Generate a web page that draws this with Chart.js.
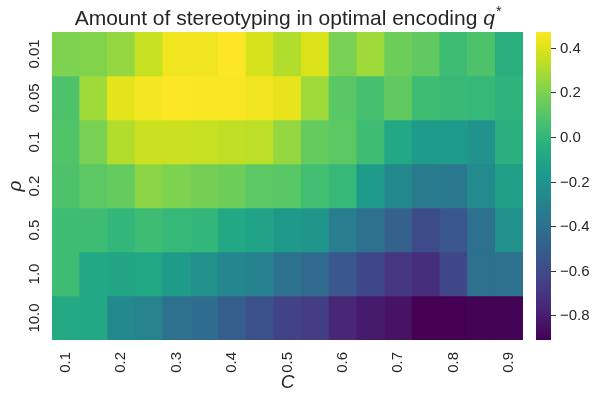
<!DOCTYPE html>
<html>
<head>
<meta charset="utf-8">
<script src="https://cdn.jsdelivr.net/npm/chart.js@4.4.1/dist/chart.umd.min.js"></script>
<style>
html,body{margin:0;padding:0;background:#fff;}
#wrap{width:595px;height:394px;position:relative;}
canvas{display:block;}
</style>
</head>
<body>
<div id="wrap"><canvas id="c" width="595" height="394"></canvas></div>
<script>
// ---- data ----
const cLabels = ['0.1','0.15','0.2','0.25','0.3','0.35','0.4','0.45','0.5','0.55','0.6','0.65','0.7','0.75','0.8','0.85','0.9'];
const rhoLabels = ['0.01','0.05','0.1','0.2','0.5','1.0','10.0'];
const rho_0_01 = [0.20, 0.21, 0.25, 0.35, 0.44, 0.44, 0.47, 0.38, 0.31, 0.39, 0.19, 0.27, 0.16, 0.13, 0.04, 0.08, -0.04];
const rho_0_05 = [0.08, 0.27, 0.41, 0.45, 0.47, 0.46, 0.46, 0.44, 0.42, 0.27, 0.11, 0.06, 0.13, 0.04, 0.02, 0.01, -0.02];
const rho_0_1  = [0.09, 0.19, 0.31, 0.36, 0.36, 0.35, 0.34, 0.33, 0.25, 0.14, 0.12, 0.04, -0.08, -0.16, -0.16, -0.21, -0.04];
const rho_0_2  = [0.08, 0.12, 0.14, 0.23, 0.20, 0.18, 0.16, 0.12, 0.11, 0.05, 0.01, -0.16, -0.26, -0.34, -0.36, -0.25, -0.13];
const rho_0_5  = [0.04, 0.04, 0.00, 0.04, 0.01, 0.00, -0.08, -0.11, -0.17, -0.19, -0.33, -0.40, -0.48, -0.60, -0.54, -0.40, -0.22];
const rho_1_0  = [0.04, -0.08, -0.10, -0.09, -0.16, -0.22, -0.28, -0.30, -0.39, -0.44, -0.54, -0.62, -0.69, -0.73, -0.62, -0.40, -0.40];
const rho_10_0 = [-0.07, -0.08, -0.26, -0.29, -0.40, -0.42, -0.50, -0.57, -0.64, -0.66, -0.76, -0.81, -0.84, -0.91, -0.91, -0.90, -0.90];
const rows = [rho_0_01, rho_0_05, rho_0_1, rho_0_2, rho_0_5, rho_1_0, rho_10_0];
const cbTicks = [0.4, 0.2, 0.0, -0.2, -0.4, -0.6, -0.8];

const vmin = Math.min(...rows.flat());
const vmax = Math.max(...rows.flat());

// ---- colormap ----
const viridisStops = ['#440154','#471365','#482475','#463480','#414487','#3b528b','#355f8d','#2f6c8e','#2a788e','#25848e','#21918c','#1e9c89','#22a884','#2fb47c','#44bf70','#5ec962','#7ad151','#9bd93c','#bddf26','#dfe318','#fde725'];
function hex2rgb(h){return [parseInt(h.slice(1,3),16),parseInt(h.slice(3,5),16),parseInt(h.slice(5,7),16)];}
const vStops = viridisStops.map(hex2rgb);
function viridis(t){
  t = Math.max(0, Math.min(1, t));
  const n = vStops.length - 1;
  const f = t * n; const i = Math.min(n - 1, Math.floor(f)); const u = f - i;
  const a = vStops[i], b = vStops[i+1];
  return 'rgb(' + [0,1,2].map(k => Math.round(a[k] + (b[k]-a[k])*u)).join(',') + ')';
}
function colorFor(v){ return viridis((v - vmin) / (vmax - vmin)); }

const FONT = '"Liberation Sans", Arial, "DejaVu Sans", sans-serif';
const TXT = '#262626';

const datasets = rows.map((vals, r) => ({
  label: 'rho=' + rhoLabels[r],
  data: vals.map(() => [r, r + 1]),
  backgroundColor: vals.map(colorFor),
  borderWidth: 0,
  barPercentage: 1.0,
  categoryPercentage: 1.0,
  grouped: false,
  yAxisID: 'y'
}));

const decorPlugin = {
  id: 'decor',
  afterDraw(chart) {
    const ctx = chart.ctx;
    const ys = chart.scales.y;
    const cb = chart.scales.cb;
    const area = chart.chartArea;
    ctx.save();
    // y tick labels (rotated)
    ctx.fillStyle = TXT;
    ctx.font = '15px ' + FONT;
    ctx.textAlign = 'center';
    ctx.textBaseline = 'middle';
    rhoLabels.forEach((lab, i) => {
      const y = ys.getPixelForValue(i + 0.5);
      ctx.save();
      ctx.translate(34.5, y);
      ctx.rotate(-Math.PI / 2);
      ctx.fillText(lab, 0, 0);
      ctx.restore();
    });
    // colorbar
    const x0 = area.right + 13, w = 15;
    const yTop = cb.getPixelForValue(vmax), yBot = cb.getPixelForValue(vmin);
    const g = ctx.createLinearGradient(0, yBot, 0, yTop);
    viridisStops.forEach((c, i) => g.addColorStop(i / (viridisStops.length - 1), c));
    ctx.fillStyle = g;
    ctx.fillRect(x0, yTop, w, yBot - yTop);
    ctx.strokeStyle = '#333';
    ctx.lineWidth = 1;
    ctx.fillStyle = TXT;
    ctx.textAlign = 'left';
    ctx.textBaseline = 'middle';
    ctx.font = '15px ' + FONT;
    cbTicks.forEach(t => {
      const y = Math.round(cb.getPixelForValue(t)) + 0.5;
      ctx.beginPath();
      ctx.moveTo(x0 + w, y);
      ctx.lineTo(x0 + w + 5, y);
      ctx.stroke();
      const s = (t < 0 ? '\u2212' : '') + Math.abs(t).toFixed(1);
      ctx.fillText(s, x0 + w + 9, y);
    });
    // title
    const cx = (area.left + area.right) / 2;
    const p1 = 'Amount of stereotyping in optimal encoding ';
    ctx.font = '21px ' + FONT;
    const w1 = ctx.measureText(p1).width;
    ctx.font = 'italic 21px ' + FONT;
    const w2 = ctx.measureText('q').width;
    ctx.font = '14px ' + FONT;
    const w3 = ctx.measureText('*').width;
    let x = cx - (w1 + w2 + w3) / 2;
    const by = 25;
    ctx.textAlign = 'left';
    ctx.textBaseline = 'alphabetic';
    ctx.font = '21px ' + FONT;
    ctx.fillText(p1, x, by); x += w1;
    ctx.font = 'italic 21px ' + FONT;
    ctx.fillText('q', x, by); x += w2 + 1;
    ctx.font = '14px ' + FONT;
    ctx.fillText('*', x, by - 9);
    ctx.restore();
  }
};

new Chart(document.getElementById('c'), {
  type: 'bar',
  data: { labels: cLabels, datasets },
  options: {
    responsive: false,
    devicePixelRatio: 1,
    animation: false,
    layout: { padding: { top: 32, right: 72, left: 0, bottom: 0 } },
    plugins: { legend: { display: false }, tooltip: { enabled: false }, title: { display: false } },
    scales: {
      x: {
        type: 'category',
        offset: true,
        grid: { display: false, drawTicks: false },
        border: { display: false },
        ticks: {
          autoSkip: false,
          minRotation: 90, maxRotation: 90,
          padding: 12,
          color: TXT,
          font: { family: FONT, size: 15 },
          callback: (v, i) => (i % 2 === 0 ? cLabels[i] : '')
        },
        title: { display: true, text: 'C', color: TXT, font: { family: FONT, size: 19, style: 'italic' }, padding: { top: 0, bottom: 0 } },
        afterFit: s => { s.height = 54; }
      },
      y: {
        type: 'linear',
        min: 0, max: rhoLabels.length,
        reverse: true,
        grid: { display: false, drawTicks: false },
        border: { display: false },
        ticks: { display: false },
        title: { display: true, text: 'ρ', color: TXT, font: { family: FONT, size: 19, style: 'italic' }, padding: { top: 4, bottom: 0 } },
        afterFit: s => { s.width = 52; }
      },
      cb: {
        type: 'linear',
        position: 'right',
        display: false,
        min: vmin, max: vmax
      }
    }
  },
  plugins: [decorPlugin]
});
</script>
</body>
</html>
